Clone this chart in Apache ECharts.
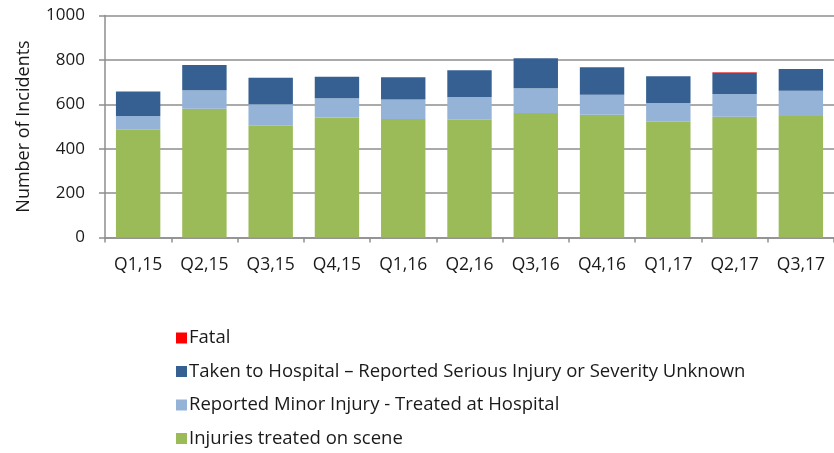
<!DOCTYPE html>
<html>
<head>
<meta charset="utf-8">
<title>Incidents by quarter</title>
<script src="https://cdn.jsdelivr.net/npm/echarts@6/dist/echarts.min.js"></script>
<style>
  html, body { margin: 0; padding: 0; background: #fff; }
  #chart { width: 834px; height: 453px; }
</style>
</head>
<body>
<div id="chart"></div>
<script>
// quarters on the x axis
var quarters = ['Q1,15', 'Q2,15', 'Q3,15', 'Q4,15', 'Q1,16', 'Q2,16', 'Q3,16', 'Q4,16', 'Q1,17', 'Q2,17', 'Q3,17']

// values (stacked from the bottom up)
var onScene = [485, 580, 503, 541, 534, 530, 561, 553, 521, 544, 547]
var minorInjury = [62, 83, 97, 86, 88, 103, 111, 90, 85, 102, 114]
var seriousInjury = [111, 114, 118, 97, 100, 120, 135, 124, 120, 96, 98]
var fatal = [0, 0, 2, 0, 0, 0, 0, 0, 0, 2, 0]

var names = {
  fatal: 'Fatal',
  serious: 'Taken to Hospital \u2013 Reported Serious Injury or Severity Unknown',
  minor: 'Reported Minor Injury - Treated at Hospital',
  scene: 'Injuries treated on scene'
}

var fontFamily = '"Open Sans", "Noto Sans", sans-serif'
var gridColor = '#8e8e8e'
var textColor = '#1a1a1a'

var chart = echarts.init(document.getElementById('chart'))

function bar(name, data, color) {
  return {
    name: name,
    type: 'bar',
    stack: 'total',
    barWidth: '67%',
    data: data,
    itemStyle: { color: color },
    emphasis: { disabled: true }
  }
}

chart.setOption({
  animation: false,
  textStyle: { fontFamily: fontFamily },
  grid: { left: 105, right: -5, top: 15.5, bottom: 215.5 },
  legend: {
    orient: 'vertical',
    left: 171,
    top: 323,
    height: 140,
    itemWidth: 11,
    itemHeight: 11,
    itemGap: 13.5,
    icon: 'rect',
    textStyle: { fontSize: 18.5, color: textColor, lineHeight: 20, padding: [0, 0, 0, -3] },
    data: [names.fatal, names.serious, names.minor, names.scene]
  },
  xAxis: {
    type: 'category',
    data: quarters,
    axisLine: { lineStyle: { color: gridColor, width: 1.5 } },
    axisTick: { show: true, length: 5, lineStyle: { color: gridColor, width: 1.5 } },
    axisLabel: { color: textColor, fontSize: 17.5, margin: 19 }
  },
  yAxis: {
    type: 'value',
    min: 0,
    max: 1000,
    interval: 200,
    name: 'Number of Incidents',
    nameLocation: 'middle',
    nameGap: 72,
    nameTextStyle: { fontSize: 18, color: textColor },
    axisLine: { show: true, lineStyle: { color: gridColor, width: 1.5 } },
    axisTick: { show: true, length: 6, lineStyle: { color: gridColor, width: 1.5 } },
    axisLabel: { color: textColor, fontSize: 17, margin: 20, formatter: function (v) { return String(v) } },
    splitLine: { lineStyle: { color: gridColor, width: 1.5 } }
  },
  series: [
    bar(names.scene, onScene, '#9bbb59'),
    bar(names.minor, minorInjury, '#95b3d7'),
    bar(names.serious, seriousInjury, '#366092'),
    bar(names.fatal, fatal, '#ff0000')
  ]
})
</script>
</body>
</html>
